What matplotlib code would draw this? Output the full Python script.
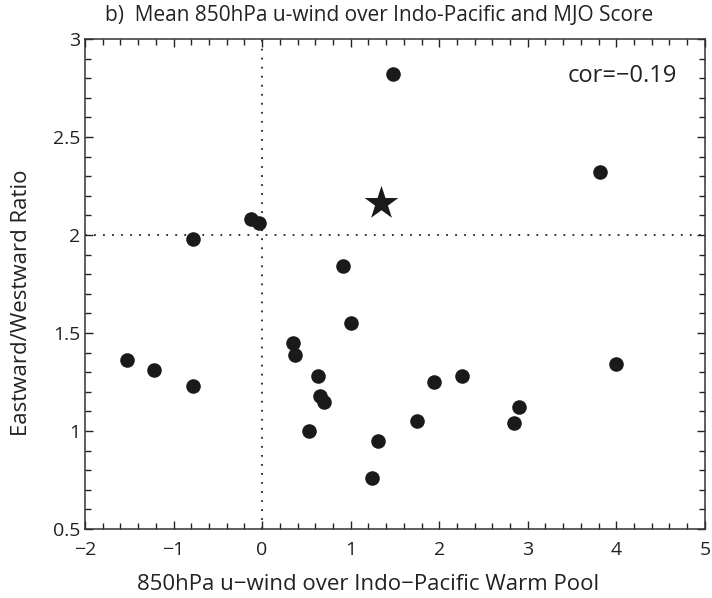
import matplotlib.pyplot as plt
from matplotlib.ticker import MultipleLocator

# model points: 850hPa u-wind vs eastward/westward ratio
u_wind = [-1.53, -1.22, -0.78, -0.78, -0.13, -0.04, 0.35, 0.37, 0.53, 0.63, 0.65,
          0.70, 0.91, 1.00, 1.24, 1.31, 1.48, 1.75, 1.94, 2.26, 2.85, 2.90, 3.82, 4.00]
ratio = [1.36, 1.31, 1.23, 1.98, 2.08, 2.06, 1.45, 1.39, 1.00, 1.28, 1.18,
         1.15, 1.84, 1.55, 0.76, 0.95, 2.82, 1.05, 1.25, 1.28, 1.04, 1.12, 2.32, 1.34]

# observation (star)
obs_u = [1.34]
obs_ratio = [2.165]

cor_text = "cor=\u22120.19"

plt.rcParams["font.family"] = ["Open Sans", "DejaVu Sans"]
plt.rcParams["axes.unicode_minus"] = True

fig = plt.figure(figsize=(7.12, 5.98), dpi=100)
ax = fig.add_axes([0.1194, 0.1154, 0.8706, 0.8194])

ax.axvline(0, color="#222222", lw=1.3, ls=(0, (1, 4)))
ax.axhline(2, color="#222222", lw=1.3, ls=(0, (1, 4)))

ax.scatter(u_wind, ratio, s=110, color="#1a1a1a", zorder=3, linewidths=0)
ax.scatter(obs_u, obs_ratio, s=650, marker="*", color="#1a1a1a", zorder=3, linewidths=0)

ax.text(4.68, 2.81, cor_text, ha="right", va="center", fontsize=17, color="#222222")

ax.set_xlim(-2, 5)
ax.set_ylim(0.5, 3)
ax.xaxis.set_major_locator(MultipleLocator(1))
ax.xaxis.set_minor_locator(MultipleLocator(0.2))
ax.yaxis.set_major_locator(MultipleLocator(0.5))
ax.yaxis.set_minor_locator(MultipleLocator(0.1))
ax.yaxis.set_major_formatter(plt.FuncFormatter(lambda v, p: f"{v:g}"))
ax.tick_params(which="both", direction="in", top=True, right=True,
               labelsize=14, colors="#222222", width=1)
ax.tick_params(which="major", length=6)
ax.tick_params(which="minor", length=4)
ax.tick_params(axis="x", pad=9)
for sp in ax.spines.values():
    sp.set_color("#333333")
    sp.set_linewidth(1.1)

ax.set_xlabel("850hPa u\u2212wind over Indo\u2212Pacific Warm Pool", fontsize=16,
              color="#222222", va="center")
ax.xaxis.set_label_coords(0.456, -0.114)
ax.set_ylabel("Eastward/Westward Ratio", fontsize=16, color="#222222", va="center")
ax.yaxis.set_label_coords(-0.102, 0.461)
fig.text(0.532, 0.974, "b)  Mean 850hPa u-wind over Indo-Pacific and MJO Score",
         ha="center", va="center", fontsize=15, color="#222222")

fig.savefig("out.png", dpi=100)
